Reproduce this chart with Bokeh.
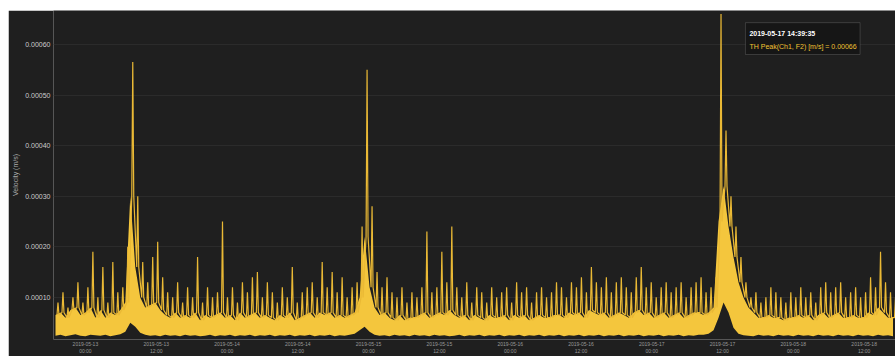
from datetime import datetime, timedelta
from bokeh.plotting import figure
from bokeh.models import (Range1d, DatetimeTickFormatter, NumeralTickFormatter,
                          DatetimeTicker, BoxAnnotation, Label)
from bokeh.embed import file_html
from bokeh.resources import INLINE

# ---- data (values in units of 1e-5 m/s) ----
start_time = datetime(2019, 5, 12, 18, 55, 48)
step_seconds = 3042

peak_high = [
    9, 11, 8, 10, 13, 9, 12, 19, 10, 16,
    9, 17, 11, 12, 20, 56.5, 30, 17, 13, 18,
    21, 14, 11, 10, 13, 9, 12, 10, 18, 9,
    12, 10, 11, 25, 10, 12, 9, 13, 11, 14,
    15, 10, 13, 11, 9, 12, 10, 16, 9, 11,
    12, 13, 10, 17, 12, 15, 11, 14, 10, 12,
    13, 24, 55, 28, 15, 12, 14, 11, 10, 12,
    9, 11, 10, 12, 23, 11, 12, 19, 13, 24,
    12, 10, 13, 9, 12, 11, 9, 12, 10, 11,
    12, 9, 13, 11, 12, 9, 11, 12, 10, 11,
    13, 12, 10, 13, 12, 14, 11, 16, 13, 12,
    14, 11, 13, 14, 12, 11, 14, 16, 12, 13,
    10, 12, 13, 11, 12, 13, 10, 12, 13, 14,
    11, 12, 14, 66, 43, 30, 24, 18, 13, 10,
    11, 9, 10, 12, 11, 10, 9, 11, 10, 12,
    10, 11, 9, 12, 13, 11, 12, 13, 10, 11,
    12, 10, 11, 14, 12, 19, 13, 11, 10,
]
body_level = [
    6.5, 7, 6, 7.5, 8, 6.5, 7, 8, 6, 7.5,
    6, 7, 6.5, 7.5, 9, 30, 16, 10, 8, 8.5,
    9, 7.5, 6.5, 6, 7, 6, 6.5, 6, 7, 5.5,
    6.5, 6, 6.5, 7, 6, 6.5, 5.5, 7, 6, 6.5,
    7, 6, 6.5, 6, 5.5, 6.5, 6, 7, 5.5, 6,
    6.5, 7, 6, 7, 6.5, 7, 6, 6.5, 6, 6.5,
    7, 10, 22, 12, 8, 6.5, 7, 6, 5.5, 6.5,
    5.5, 6, 6, 6.5, 7, 6, 6.5, 7, 6.5, 7.5,
    6.5, 6, 6.5, 5.5, 6.5, 6, 5.5, 6.5, 6, 6,
    6.5, 5.5, 6.5, 6, 6.5, 5.5, 6, 6.5, 6, 6,
    6.5, 6.5, 6, 7, 6.5, 7, 6, 7.5, 7, 6.5,
    7, 6, 6.5, 7, 6.5, 6, 7, 7.5, 6.5, 7,
    6, 6.5, 7, 6, 6.5, 7, 6, 6.5, 7, 7,
    6.5, 7, 8, 25, 32, 24, 18, 13, 10, 8,
    7, 6, 6, 6.5, 6, 6, 5.5, 6, 6, 6.5,
    6, 6.5, 5.5, 6.5, 7, 6, 6.5, 7, 6, 6,
    6.5, 6, 6, 7, 6.5, 8, 7, 6, 6,
]
peak_low = [
    2.4, 2.6, 2.3, 2.5, 2.7, 2.4, 2.3, 2.6, 2.5, 2.4,
    2.6, 2.3, 2.5, 2.7, 3.2, 5.0, 4.2, 3.0, 2.6, 2.4,
    2.5, 2.3, 2.6, 2.4, 2.5, 2.3, 2.6, 2.4, 2.5, 2.3,
    2.4, 2.6, 2.3, 2.5, 2.4, 2.6, 2.3, 2.5, 2.4, 2.6,
    2.3, 2.5, 2.4, 2.6, 2.3, 2.5, 2.4, 2.6, 2.3, 2.5,
    2.4, 2.6, 2.3, 2.5, 2.4, 2.6, 2.3, 2.5, 2.4, 2.6,
    2.8, 3.5, 4.2, 3.2, 2.6, 2.4, 2.5, 2.3, 2.6, 2.4,
    2.5, 2.3, 2.6, 2.4, 2.5, 2.3, 2.6, 2.4, 2.5, 2.3,
    2.4, 2.6, 2.3, 2.5, 2.4, 2.6, 2.3, 2.5, 2.4, 2.6,
    2.3, 2.5, 2.4, 2.6, 2.3, 2.5, 2.4, 2.6, 2.3, 2.5,
    2.4, 2.6, 2.3, 2.5, 2.4, 2.6, 2.3, 2.5, 2.4, 2.6,
    2.3, 2.5, 2.4, 2.6, 2.3, 2.5, 2.4, 2.6, 2.3, 2.5,
    2.4, 2.6, 2.3, 2.5, 2.4, 2.6, 2.3, 2.5, 2.4, 2.6,
    2.6, 2.8, 3.5, 6.0, 9.0, 7.0, 4.0, 2.8, 2.5, 2.4,
    2.3, 2.6, 2.4, 2.5, 2.3, 2.6, 2.4, 2.5, 2.3, 2.6,
    2.4, 2.5, 2.3, 2.6, 2.4, 2.5, 2.3, 2.6, 2.4, 2.5,
    2.3, 2.6, 2.4, 2.5, 2.3, 2.6, 2.4, 2.5, 2.3,
]
y_ticks = [0.0001, 0.0002, 0.0003, 0.0004, 0.0005, 0.0006]
tooltip_time = "2019-05-17 14:39:35"
tooltip_value = "TH Peak(Ch1, F2) [m/s] = 0.00066"
y_label = "Velocity (m/s)"

SCALE = 1e-5
bin_times = [start_time + timedelta(seconds=k * step_seconds) for k in range(len(peak_high))]
low_v = [v * SCALE for v in peak_low]
body_v = [v * SCALE for v in body_level]

# trace: each bin rises from its body level to its peak value as a thin needle
xs, ys = [], []
for t, b, hi in zip(bin_times, body_level, peak_high):
    xs += [t + timedelta(seconds=0.3 * step_seconds),
           t + timedelta(seconds=0.5 * step_seconds),
           t + timedelta(seconds=0.7 * step_seconds)]
    ys += [b * SCALE, hi * SCALE, b * SCALE]

BG = "#1f1f1f"
x_start = start_time - timedelta(seconds=0.4 * step_seconds)
x_end = start_time + timedelta(seconds=(len(peak_high) - 0.5) * step_seconds)

p = figure(width=887, height=346, output_backend="svg", toolbar_location=None,
           x_axis_type="datetime",
           x_range=Range1d(x_start, x_end),
           y_range=Range1d(0.0000168, 0.000667),
           background_fill_color=BG, border_fill_color=BG,
           min_border_left=45, min_border_right=0, min_border_top=0,
           min_border_bottom=14)
p.margin = (10, 0, 0, 8)
p.outline_line_color = None

p.varea(x=bin_times, y1=low_v, y2=body_v, fill_color="#f4c63d", fill_alpha=1.0)
p.line(xs, ys, line_color="#eab935", line_width=1.2)

p.yaxis.ticker = y_ticks
p.yaxis.formatter = NumeralTickFormatter(format="0.00000")
p.yaxis.axis_label = y_label
p.yaxis.axis_label_text_font_size = "7px"
p.yaxis.axis_label_text_color = "#aaaaaa"
p.yaxis.axis_label_text_font_style = "normal"
p.yaxis.axis_label_standoff = 3
p.yaxis.major_label_text_font_size = "7px"
p.yaxis.major_label_text_color = "#cccccc"
p.yaxis.major_label_standoff = 3
p.yaxis.axis_line_color = None
p.yaxis.major_tick_line_color = None
p.yaxis.minor_tick_line_color = None
p.yaxis.major_tick_out = 0
p.yaxis.major_tick_in = 0

p.xaxis.ticker = DatetimeTicker(desired_num_ticks=12)
p.xaxis.formatter = DatetimeTickFormatter(hours="%Y-%m-%d\n%H:%M", days="%Y-%m-%d\n%H:%M")
p.xaxis.major_label_text_font_size = "5px"
p.xaxis.major_label_text_color = "#999999"
p.xaxis.major_label_standoff = 1
p.xaxis.axis_line_color = None
p.xaxis.major_tick_line_color = None
p.xaxis.minor_tick_line_color = None
p.xaxis.major_tick_out = 0
p.xaxis.major_tick_in = 0

p.xgrid.grid_line_color = None
p.ygrid.grid_line_color = "#2b2b2b"

# static tooltip box
def px_time(px):
    return start_time + timedelta(seconds=(px - 55) / 5 * step_seconds)

box = BoxAnnotation(left=px_time(747), right=px_time(862), top=6.43e-4, bottom=5.80e-4,
                    fill_color="#161616", fill_alpha=1.0, line_color="#8a8a8a", line_width=1)
p.add_layout(box)
p.add_layout(Label(x=px_time(751), y=6.15e-4, text=tooltip_time, text_color="#ffffff",
                   text_font_size="7px", text_font_style="bold"))
p.add_layout(Label(x=px_time(751), y=5.89e-4, text=tooltip_value, text_color="#f2c233",
                   text_font_size="7px"))

open("out.html", "w").write(file_html(p, INLINE))
